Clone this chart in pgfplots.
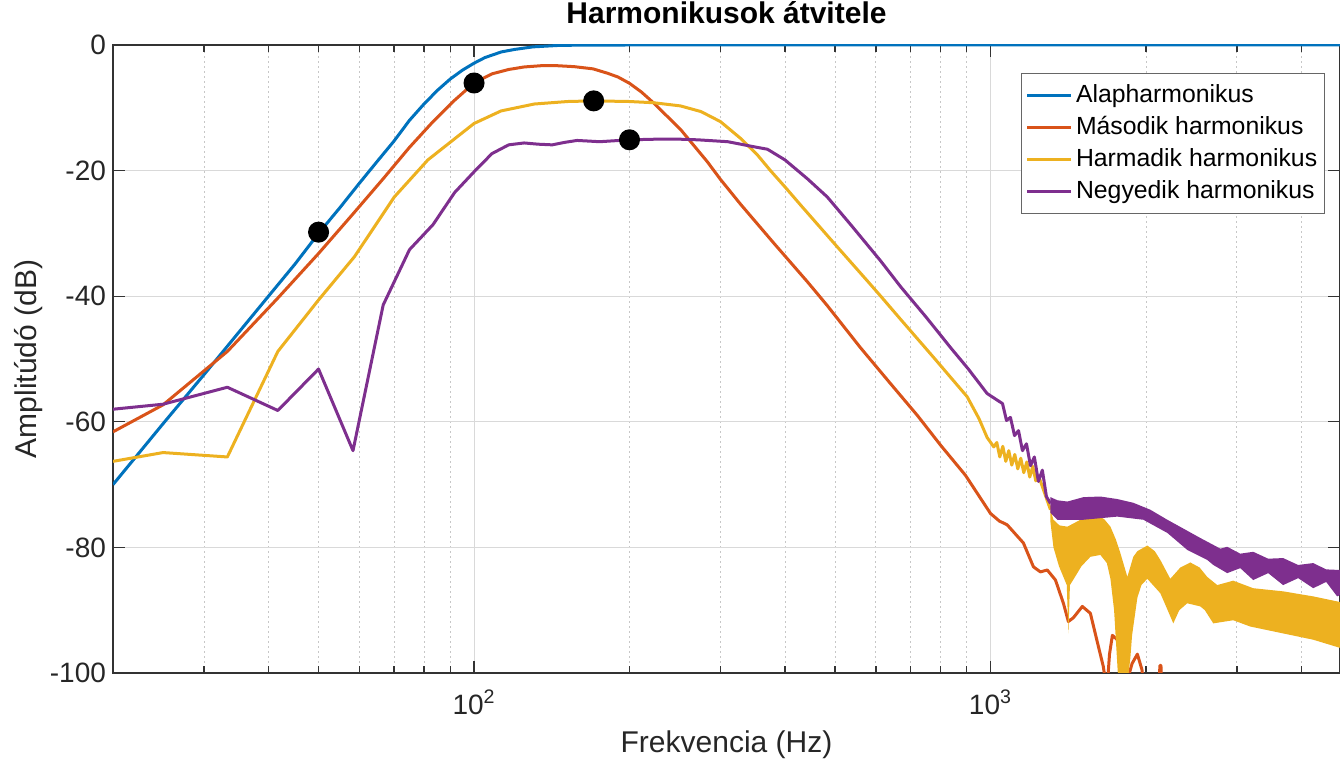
\documentclass[border=0pt]{standalone}
\usepackage{pgfplots}
\pgfplotsset{compat=1.18}
\usepackage{fontspec}
\setmainfont{Liberation Sans}

\definecolor{mblue}{rgb}{0,0.447,0.741}
\definecolor{mred}{rgb}{0.85,0.325,0.098}
\definecolor{myellow}{rgb}{0.929,0.694,0.125}
\definecolor{mpurple}{rgb}{0.494,0.184,0.556}

\begin{document}
\begin{tikzpicture}
\begin{axis}[
  at={(0,0)}, anchor=south west,
  scale only axis, width=613.5pt, height=314pt,
  xmode=log, xmin=20, xmax=4750, ymin=-100, ymax=0,
  xtick={100,1000},
  xticklabels={10\textsuperscript{2},10\textsuperscript{3}},
  minor xtick={20,30,40,50,60,70,80,90,200,300,400,500,600,700,800,900,2000,3000,4000},
  ytick={-100,-80,-60,-40,-20,0},
  yticklabels={-100,-80,-60,-40,-20,0},
  xmajorgrids, xminorgrids, ymajorgrids,
  major grid style={draw=black!15, line width=0.5pt},
  minor grid style={draw=black!22, line width=0.45pt, dash pattern=on 1pt off 1.5pt},
  axis line style={draw=black!80, line width=0.7pt},
  tick style={draw=black!80, line width=0.6pt},
  tick align=inside,
  major tick length=6pt, minor tick length=3.5pt,
  tick label style={font=\fontsize{14}{16}\selectfont, text=black!85},
  xticklabel style={yshift=-5pt},
  title={Harmonikusok átvitele},
  title style={font=\bfseries\fontsize{15}{18}\selectfont, at={(axis description cs:0.5,1.004)}},
  xlabel={Frekvencia (Hz)},
  ylabel={Amplitúdó (dB)},
  label style={font=\fontsize{15}{18}\selectfont, text=black!85},
  xlabel style={at={(axis description cs:0.5,-0.1146)}, anchor=center},
  ylabel style={at={(axis description cs:-0.0685,0.5)}, anchor=center},
  legend style={at={(axis description cs:0.9878,0.9554)}, anchor=north east,
    draw=black!60, line width=0.6pt, fill=white,
    font=\fontsize{12.4}{15}\selectfont, inner xsep=2pt, inner ysep=3pt,
    nodes={inner sep=1.6pt, text height=9.8pt, text depth=3pt},
    cells={anchor=west}},
  legend image code/.code={\draw[#1, line width=1.5pt] (0pt,0pt) -- (22pt,0pt);},
  every axis plot/.append style={line width=1.5pt, line join=round},
]

% Alapharmonikus
\addplot[mblue] coordinates {
(20,-70) (25,-60.3) (30,-52.5) (35,-45.8) (40,-40) (45,-34.9) (50,-30)
(55,-25.9) (60,-22) (65,-18.5) (70,-15.3) (75,-12.0) (80,-9.4) (85,-7.2)
(90,-5.4) (95,-4.0) (100,-2.9) (105,-2.0) (113,-1.1) (120,-0.7) (130,-0.3)
(145,-0.08) (160,-0.02) (200,0) (4750,0)
};
\addlegendentry{Alapharmonikus}

% Második harmonikus
\addplot[mred] coordinates {
(20,-61.6) (25,-57.3) (33.3,-48.8) (41.7,-40.3) (50,-33.2) (58.3,-26.9)
(66.7,-21.3) (75,-16.3) (83.3,-12.2) (91.7,-8.8) (100,-6.05) (108.3,-4.6)
(116.7,-3.9) (125,-3.5) (134.8,-3.3) (145,-3.3) (156.3,-3.45) (170,-3.8)
(181.4,-4.5) (190,-5.1) (200,-6.1) (211,-7.5) (223.2,-9.3) (251.4,-13.5)
(283,-18.6) (300,-21.4) (328.5,-25.4) (381,-31.6) (442,-37.7) (483,-41.5)
(560,-48.2) (640,-53.9) (722,-59.0) (800,-63.7) (894,-68.5) (1000,-74.6)
(1040,-75.8) (1077,-76.4) (1158,-79.3) (1211,-83.1) (1249,-83.9) (1288,-83.6)
(1336,-85.2) (1384,-88.9) (1415,-91.8) (1447,-91.2) (1506,-89.4) (1561,-90.5)
(1618,-95.8) (1654,-99.0) (1680,-103) (1700,-97) (1722,-94) (1760,-94.7)
(1800,-99.5) (1815,-103) (1880,-98.5) (1925,-97) (1965,-99.5) (1990,-104)
(2115,-104) (2128,-98.8) (2138,-98.8) (2150,-104) (4750,-115)
};
\addlegendentry{Második harmonikus}

% Harmadik harmonikus
\addplot[myellow] coordinates {
(20,-66.3) (25,-64.9) (33.3,-65.6) (41.7,-48.8) (50,-40.6) (58.7,-33.7)
(70.1,-24.2) (81.4,-18.3) (100,-12.5) (112.8,-10.5) (130.8,-9.4) (151.8,-9.0)
(170.5,-8.9) (200,-9.0) (223,-9.2) (251,-9.7) (275,-10.6) (300,-12.2)
(328.5,-14.9) (353.7,-17.5) (375,-20.0) (400,-22.6) (429,-25.5) (497,-31.5)
(578,-37.6) (613,-40.0) (670,-43.7) (777,-49.8) (901,-56.0) (950,-59.5)
(985,-62.5) (1014.8,-64.0)
(1028.4,-63.3) (1042.3,-65.6) (1056.3,-63.9) (1070.5,-66.3) (1084.9,-64.6)
(1099.5,-66.9) (1114.3,-65.2) (1129.3,-67.5) (1144.5,-65.8) (1159.9,-68.1)
(1175.5,-66.4) (1191.3,-68.8) (1207.3,-67.1) (1223.6,-69.4) (1240,-68.7)
(1306.5,-74.0)
};
\addlegendentry{Harmadik harmonikus}

\addplot[draw=none, fill=myellow, forget plot] coordinates {
(1306.5,-74.0) (1324,-75.6) (1360,-76.5) (1409,-76.7) (1493,-75.6) (1560,-75.0)
(1611,-74.9) (1660,-75.5) (1707,-76.7) (1750,-78.8) (1784,-80.9) (1841,-84.7)
(1890,-81.5) (1925,-80.6) (2012,-79.7) (2080,-80.6) (2132,-82.0) (2229,-85.0)
(2331,-83.2) (2437,-82.4) (2540,-83.2) (2628,-84.7) (2748,-86.0) (2951,-85.3)
(3226,-86.5) (3687,-87.0) (4215,-87.8) (4750,-88.7)
(4750,-96.0) (4215,-94.7) (3687,-93.7) (3183,-92.6) (2951,-91.6) (2700,-92.1)
(2600,-90.0) (2548,-89.4) (2404,-88.9) (2320,-90.0) (2259,-92.1) (2190,-89.5)
(2132,-87.3) (2012,-85.0) (1960,-86.0) (1925,-88.0) (1880,-94) (1866,-97.5)
(1840,-102) (1770,-102) (1735,-90) (1707,-85.0) (1680,-82.5) (1632,-81.2)
(1561,-81.5) (1500,-83.0) (1450,-85.0) (1425,-86.0) (1415,-93.7) (1405,-86.0)
(1357,-83.0) (1324,-80.0) (1306.5,-76.0)
};

% Negyedik harmonikus
\addplot[mpurple] coordinates {
(20,-58.0) (25,-57.2) (33.3,-54.5) (41.7,-58.2) (50,-51.6) (58.3,-64.6)
(66.7,-41.4) (75,-32.6) (83.3,-28.6) (91.7,-23.5) (100,-20.2) (108.3,-17.3)
(116.7,-15.9) (125,-15.6) (133.3,-15.8) (141.7,-15.9) (150,-15.5) (158.3,-15.2)
(166.7,-15.3) (175,-15.4) (200,-15.1) (225,-15.0) (250,-15.0) (271,-15.1)
(310,-15.4) (348,-16.2) (370,-16.6) (400,-18.3) (442,-21.3) (483,-24.2)
(536,-28.6) (613,-34.4) (670,-38.5) (750,-43.3) (837,-48.2) (906,-51.6)
(985,-55.5) (1055,-57.1) (1074,-59.8) (1093,-59.3) (1113,-62.2)
(1133,-61.4) (1153,-64.6) (1174,-63.5) (1195,-67.0) (1216,-65.6) (1238,-69.5)
(1260,-67.7) (1283,-71.9) (1306.5,-73.0)
};
\addlegendentry{Negyedik harmonikus}

\addplot[draw=none, fill=mpurple, forget plot] coordinates {
(1306.5,-72.0) (1348,-72.5) (1409,-72.7) (1513,-72.0) (1632,-71.9) (1760,-72.3)
(1891,-72.9) (2039,-74.0) (2200,-75.6) (2362,-77.0) (2548,-78.5) (2700,-79.6)
(2786,-80.2) (2873,-79.9) (3045,-81.0) (3226,-80.7) (3449,-81.8) (3687,-81.7)
(3942,-82.8) (4215,-82.5) (4466,-83.5) (4750,-83.6)
(4750,-87.6) (4690,-87.8) (4466,-85.5) (4215,-86.5) (3942,-84.9) (3687,-86.0)
(3449,-84.1) (3226,-85.2) (3045,-83.3) (2873,-84.1) (2700,-82.8) (2628,-82.0)
(2404,-80.4) (2200,-77.7) (1977,-75.6) (1760,-75.1) (1513,-75.6) (1348,-75.6)
(1306.5,-74.5)
};

% jelolt pontok
\addplot[only marks, mark=*, mark size=4.5pt, black, forget plot]
  coordinates {(50,-29.8) (100,-6.05) (170.5,-8.9) (200,-15.1)};

\end{axis}
\pgfresetboundingbox
\path[use as bounding box] (-56.5pt,-46pt) rectangle (613.5pt,336.5pt);
\end{tikzpicture}
\end{document}
